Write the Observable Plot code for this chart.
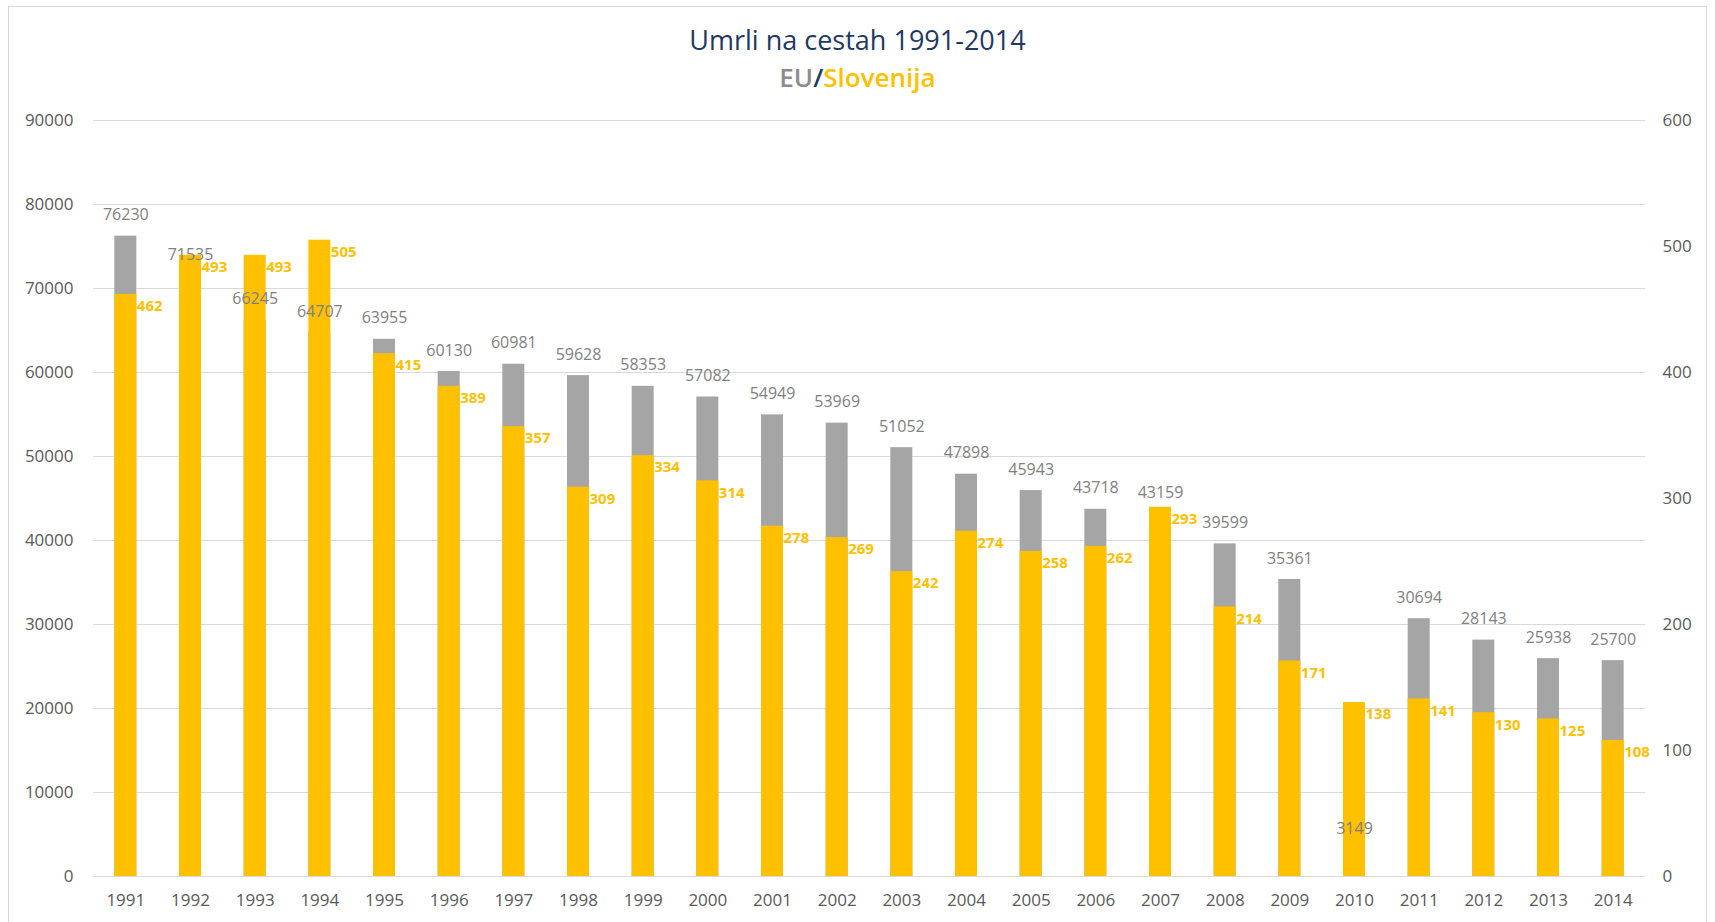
<!DOCTYPE html>
<html>
<head>
<meta charset="utf-8">
<script src="https://cdn.jsdelivr.net/npm/d3@7"></script>
<script src="https://cdn.jsdelivr.net/npm/@observablehq/plot@0.6"></script>
<style>
  html, body { margin: 0; padding: 0; background: #fff; overflow: hidden; }
  #wrap { position: relative; width: 1715px; height: 922px; font-family: "Open Sans", sans-serif; }
  #frame { position: absolute; left: 8px; top: 6px; width: 1699px; height: 940px; border: 1px solid #D9D9D9; box-sizing: border-box; pointer-events: none; }
  #head { position: relative; height: 100px; text-align: center; }
  #title { position: absolute; left: 0; right: 0; top: 22px; font-size: 27px; color: #1F3864; line-height: 36px; }
  #sub { position: absolute; left: 0; right: 0; top: 59px; font-size: 26px; font-weight: 600; line-height: 36px; }
  #chart { position: relative; }
</style>
</head>
<body>
<div id="wrap">
  <div id="frame"></div>
  <div id="head">
    <div id="title">Umrli na cestah 1991-2014</div>
    <div id="sub"><span style="color:#8C8C8C">EU</span><span style="color:#1F3864">/</span><span style="color:#FFC000">Slovenija</span></div>
  </div>
  <div id="chart"></div>
</div>
<script>
const years = [1991,1992,1993,1994,1995,1996,1997,1998,1999,2000,2001,2002,2003,2004,2005,2006,2007,2008,2009,2010,2011,2012,2013,2014];
const euDeaths = [76230,71535,66245,64707,63955,60130,60981,59628,58353,57082,54949,53969,51052,47898,45943,43718,43159,39599,35361,3149,30694,28143,25938,25700];
const sloDeaths = [462,493,493,505,415,389,357,309,334,314,278,269,242,274,258,262,293,214,171,138,141,130,125,108];
const leftTicks = [0,10000,20000,30000,40000,50000,60000,70000,80000,90000];
const rightTicks = [0,100,200,300,400,500,600];

const leftMax = 90000, rightMax = 600;
const ratio = leftMax / rightMax;

const data = years.map((y, i) => ({year: String(y), eu: euDeaths[i], slo: sloDeaths[i]}));

const chart = Plot.plot({
  width: 1715,
  height: 822,
  marginLeft: 93,
  marginRight: 70,
  marginTop: 20,
  marginBottom: 46,
  style: {fontFamily: "Open Sans, sans-serif", fontSize: "17px", color: "#595959", background: "transparent", overflow: "visible"},
  x: {domain: years.map(String), paddingInner: 0.66, paddingOuter: 0.33, round: false, label: null},
  y: {domain: [0, leftMax], label: null},
  marks: [
    Plot.gridY(leftTicks, {stroke: "#D9D9D9", strokeOpacity: 1}),
    Plot.barY(data, {x: "year", y: "eu", fill: "#A5A5A5"}),
    Plot.barY(data, {x: "year", y: d => d.slo * ratio, fill: "#FFC000"}),
    Plot.text(data, {x: "year", y: "eu", text: d => String(d.eu), dy: -21, fill: "#7F7F7F", fontSize: 16}),
    Plot.text(data, {x: "year", y: d => d.slo * ratio, text: d => String(d.slo), dx: 11, dy: 12, textAnchor: "start", fill: "#FFC000", fontWeight: "bold", fontSize: 15}),
    Plot.axisY(leftTicks, {anchor: "left", tickSize: 0, tickPadding: 20, tickFormat: d => String(d), label: null, fill: "#595959", fontSize: 17}),
    Plot.axisY(rightTicks.map(t => t * ratio), {anchor: "right", tickSize: 0, tickPadding: 17, tickFormat: d => String(Math.round(d / ratio)), label: null, fill: "#595959", fontSize: 17}),
    Plot.axisX({tickSize: 0, tickPadding: 17, label: null, fill: "#595959", fontSize: 17})
  ]
});
document.getElementById("chart").appendChild(chart);
</script>
</body>
</html>
